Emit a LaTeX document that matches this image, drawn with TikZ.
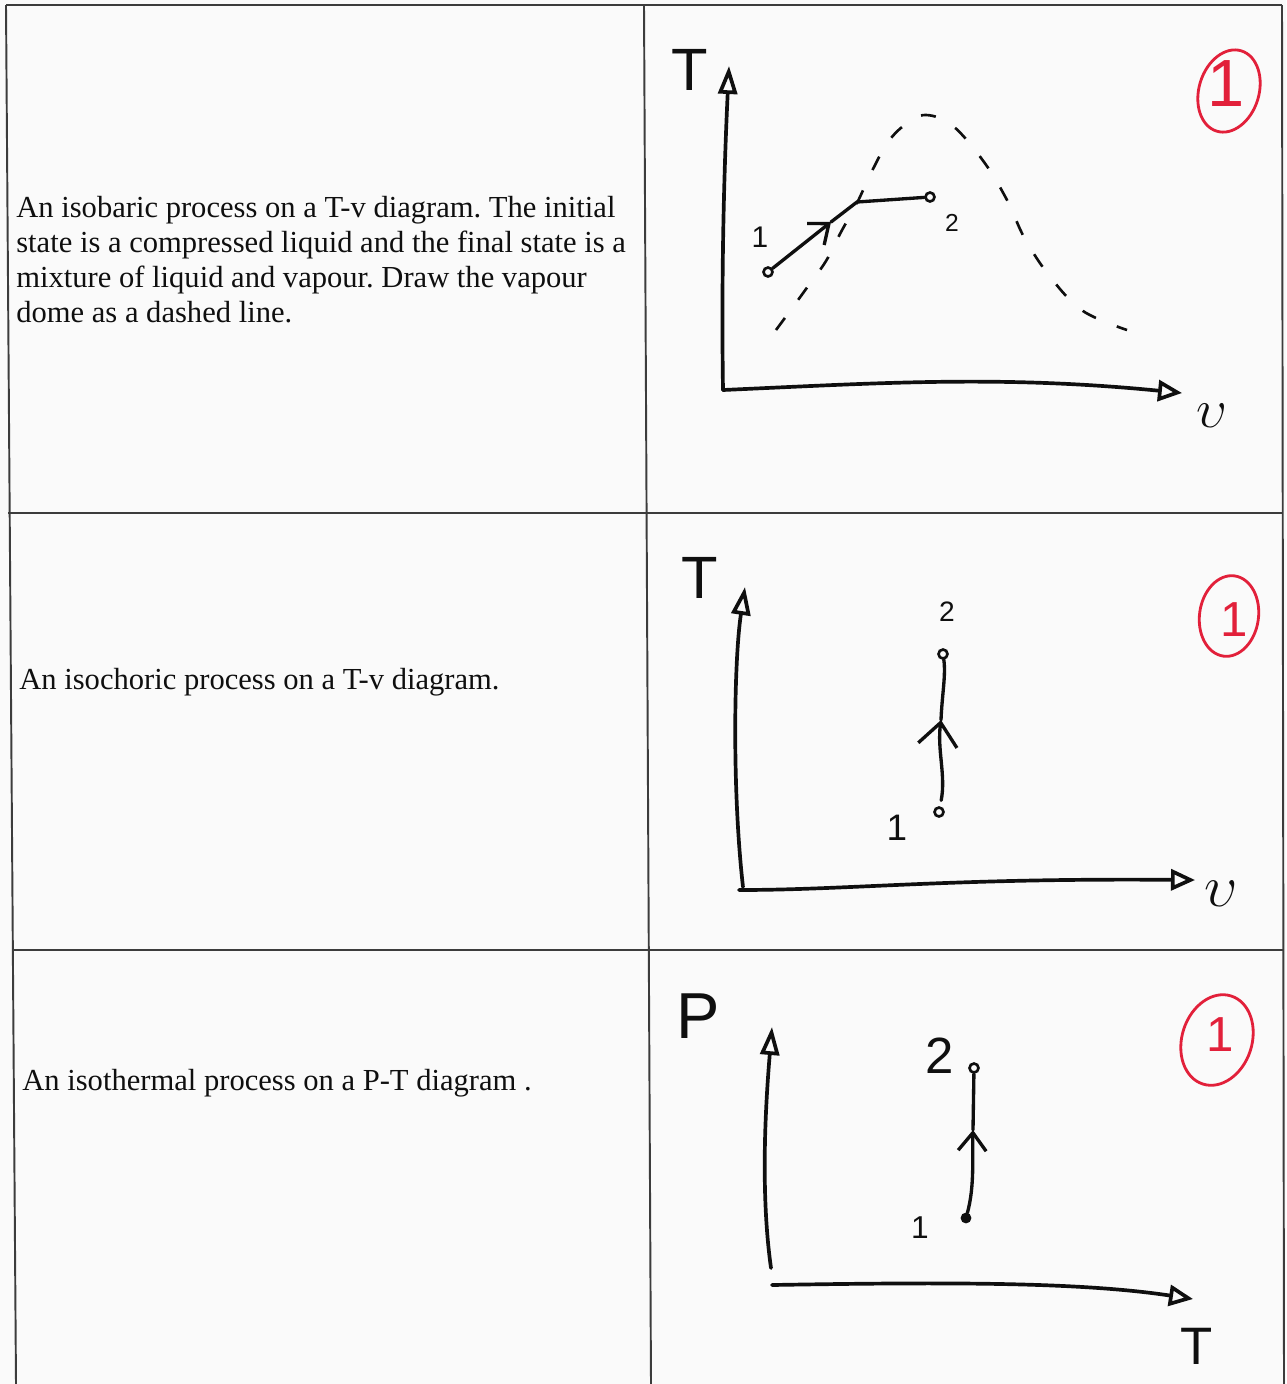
\documentclass[tikz,border=0pt]{standalone}
\usepackage{fontspec}
\setmainfont{Liberation Serif}
\newfontfamily\hand{Liberation Sans}
\usetikzlibrary{arrows.meta,shapes.geometric}
\definecolor{ink}{RGB}{15,15,15}
\definecolor{redink}{RGB}{226,32,58}
\definecolor{gridc}{RGB}{60,60,60}
\definecolor{paper}{RGB}{250,250,250}
\frenchspacing
\begin{document}
\begin{tikzpicture}[x=0.02cm,y=-0.02cm,
  gridline/.style={draw=gridc,line width=1.1pt},
  axis/.style={draw=ink,line width=2.1pt,line cap=round},
  ytip/.style={-{Triangle[open,length=0.56cm,width=0.38cm]}},
  xtip/.style={-{Triangle[open,length=0.48cm,width=0.42cm]}},
  proc/.style={draw=ink,line width=1.9pt,line cap=round},
  dome/.style={draw=ink,line width=1.5pt,dash pattern=on 0.3cm off 0.45cm},
  statept/.style={circle,draw=ink,line width=1.5pt,inner sep=0pt,minimum size=0.18cm},
  lbl/.style={inner sep=0pt,text=ink,font=\hand\fontsize{#1}{#1}\selectfont},
  vlbl/.style={inner sep=0pt,text=ink,font=\Huge,scale=#1},
  desc/.style={anchor=base west,inner sep=0pt,text=ink,font=\fontsize{17.4}{19.9}\selectfont},
  ring/.style={ellipse,draw=redink,line width=1.6pt,inner sep=0pt}
]
\useasboundingbox (0,0) rectangle (1286,1384);
\fill[paper] (0,0) rectangle (1286,1384);

% table grid
\draw[gridline] (6,5) -- (1282,5);
\draw[gridline] (6,5) -- (16,1384);
\draw[gridline] (644,5) -- (651,1384);
\draw[gridline] (1282,5) -- (1284,1384);
\draw[gridline] (8,513) -- (1283,513);
\draw[gridline] (13,950) -- (1283,950);

% descriptions
\node[desc] (d1a) at (16,217) {An isobaric process on a T-v diagram. The initial};
\node[desc] (d1b) at (16,252) {state is a compressed liquid and the final state is a};
\node[desc] (d1c) at (16,287) {mixture of liquid and vapour. Draw the vapour};
\node[desc] (d1d) at (16,322) {dome as a dashed line.};
\node[desc] (d2) at (19,689) {An isochoric process on a T-v diagram.};
\node[desc] (d3) at (22,1090) {An isothermal process on a P-T diagram .};

% ---------- panel 1 ----------
\coordinate (o1) at (723,390);
\coordinate (y1) at (729,66);
\coordinate (x1) at (1182,393);
\draw[axis,ytip] (o1) .. controls (721,260) and (725,150) .. (y1);
\draw[axis,xtip] (o1) .. controls (880,383) and (1000,375) .. (x1);
\node[lbl=34] (T1) at (690,70) {T};
\node[vlbl=1.25] (v1) at (1212,416) {$\upsilon$};
\draw[dome] plot[smooth,tension=0.6] coordinates {(776,330) (790,311) (806,289) (826,261) (841,232) (857,203) (872,171) (888,142) (906,124) (926,115) (953,126) (984,162) (1007,200) (1025,239) (1051,278) (1083,311) (1127,330)};
\node[statept] (p11) at (768,272) {};
\node[statept] (p12) at (930,197) {};
\coordinate (m1) at (831,222);
\coordinate (s1) at (857,202);
\draw[proc,-{Straight Barb[length=0.34cm,width=0.55cm]}] (p11) -- (m1);
\draw[proc] (m1) -- (s1) -- (p12);
\node[lbl=17] (l11) at (760,237) {1};
\node[lbl=14] (l12) at (952,223) {2};
\node[ring,minimum width=1.2cm,minimum height=1.68cm,rotate=-17] (r1) at (1229,91) {};
\node[lbl=38,text=redink] (r1t) at (1226,84) {1};

% ---------- panel 2 ----------
\coordinate (o2y) at (743,887);
\coordinate (y2) at (745,587);
\coordinate (o2x) at (739,890);
\coordinate (x2) at (1195,880);
\draw[axis,ytip] (o2y) .. controls (732,790) and (734,660) .. (y2);
\draw[axis,xtip] (o2x) .. controls (850,890) and (950,878) .. (x2);
\node[lbl=34] (T2) at (700,578) {T};
\node[vlbl=1.35] (v2) at (1221,894) {$\upsilon$};
\node[statept] (p21) at (939,812) {};
\node[statept] (p22) at (943,654) {};
\coordinate (m2) at (941,720);
\draw[proc,shorten <=0.12cm,-{Straight Barb[length=0.46cm,width=0.78cm]}] (p21) .. controls (946,775) and (937,750) .. (m2);
\draw[proc] (m2) .. controls (942,695) and (946,675) .. (p22);
\node[lbl=16] (l22) at (947,612) {2};
\node[lbl=21] (l21) at (897,828) {1};
\node[ring,minimum width=1.18cm,minimum height=1.62cm,rotate=-8] (r2) at (1229,616) {};
\node[lbl=28,text=redink] (r2t) at (1234,620) {1};

% ---------- panel 3 ----------
\coordinate (o3y) at (771,1268);
\coordinate (y3) at (772,1027);
\coordinate (o3x) at (772,1285);
\coordinate (x3) at (1193,1299);
\draw[axis,ytip] (o3y) .. controls (760,1190) and (766,1100) .. (y3);
\draw[axis,xtip] (o3x) .. controls (950,1282) and (1080,1282) .. (x3);
\node[lbl=37] (P3) at (698,1016) {P};
\node[lbl=30] (T3) at (1197,1346) {T};
\node[statept,fill=ink,minimum size=0.16cm] (p31) at (966,1218) {};
\node[statept] (p32) at (974,1068) {};
\coordinate (m3) at (973,1130);
\draw[proc,-{Straight Barb[length=0.36cm,width=0.56cm]}] (p31) .. controls (975,1185) and (972,1155) .. (m3);
\draw[proc] (m3) -- (p32);
\node[lbl=29] (l32) at (940,1056) {2};
\node[lbl=18] (l31) at (920,1228) {1};
\node[ring,minimum width=1.4cm,minimum height=1.85cm,rotate=-18] (r3) at (1217,1040) {};
\node[lbl=28,text=redink] (r3t) at (1220,1035) {1};
\end{tikzpicture}
\end{document}
